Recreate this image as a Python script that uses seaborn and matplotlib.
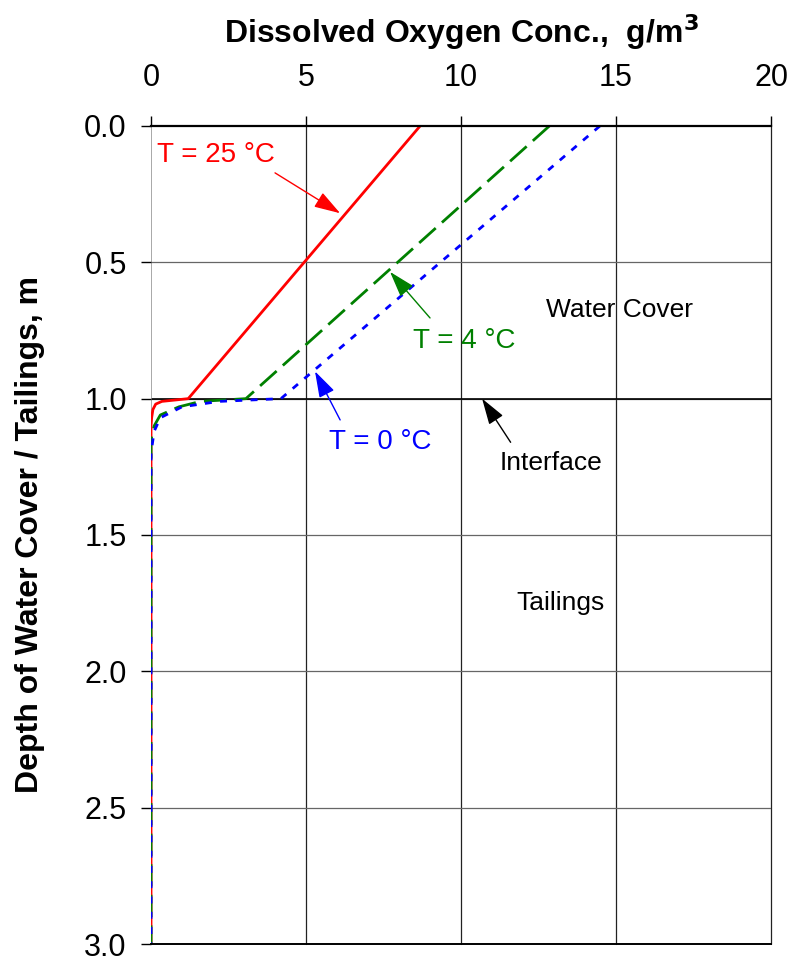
import numpy as np
import pandas as pd
import matplotlib
matplotlib.use("Agg")
import matplotlib.pyplot as plt
import seaborn as sns

# depth profiles (depth in m, DO in g/m3)
depth_25 = [0.0, 1.0, 1.01, 1.02, 1.04, 1.07, 1.1, 3.0]
conc_25 = [8.68, 1.2, 0.35, 0.15, 0.06, 0.02, 0.0, 0.0]

depth_4 = [0.0, 1.0, 1.01, 1.03, 1.06, 1.1, 1.15, 3.0]
conc_4 = [12.85, 3.06, 1.6, 0.9, 0.3, 0.1, 0.0, 0.0]

depth_0 = [0.0, 1.0, 1.01, 1.03, 1.07, 1.12, 1.2, 3.0]
conc_0 = [14.48, 4.19, 2.2, 1.0, 0.3, 0.1, 0.0, 0.0]

xticks = [0, 5, 10, 15, 20]
yticks = [0.0, 0.5, 1.0, 1.5, 2.0, 2.5, 3.0]

sns.set_style("white")
plt.rcParams['font.family'] = ['Liberation Sans', 'DejaVu Sans']
plt.rcParams['text.color'] = 'black'
plt.rcParams['axes.labelcolor'] = 'black'
plt.rcParams['xtick.color'] = 'black'
plt.rcParams['ytick.color'] = 'black'

fig = plt.figure(figsize=(7.92, 9.58), dpi=100)
ax = fig.add_axes([0.1907, 0.0146, 0.7828, 0.8539])

df25 = pd.DataFrame({"depth": depth_25, "conc": conc_25})
df4 = pd.DataFrame({"depth": depth_4, "conc": conc_4})
df0 = pd.DataFrame({"depth": depth_0, "conc": conc_0})

sns.lineplot(data=df25, x="conc", y="depth", sort=False, estimator=None,
             color="red", lw=2, ax=ax)
sns.lineplot(data=df4, x="conc", y="depth", sort=False, estimator=None,
             color="green", lw=2, ax=ax)
ax.lines[-1].set_dashes([8, 3])
sns.lineplot(data=df0, x="conc", y="depth", sort=False, estimator=None,
             color="blue", lw=2, ax=ax)
ax.lines[-1].set_dashes([2.5, 3])

ax.set_xlim(0, 20)
ax.set_ylim(3.0, 0.0)
ax.set_xticks(xticks)
ax.set_yticks(yticks)
ax.set_yticklabels([f"{v:.1f}" for v in yticks])
ax.xaxis.tick_top()
ax.xaxis.set_label_position("top")
ax.tick_params(axis="both", labelsize=22, direction="out", length=7.5,
               width=1, color="black")
ax.tick_params(axis="x", top=True, bottom=False, pad=16)
ax.tick_params(axis="y", left=True, pad=10)

for v in xticks[1:]:
    ax.axvline(v, color="#222222", lw=0.9, zorder=0, clip_on=False)
for v in yticks[1:-1]:
    ax.axhline(v, color="#666666", lw=0.9, zorder=0)
ax.axhline(1.0, color="black", lw=1.2, zorder=0)

for s in ["left", "right"]:
    ax.spines[s].set_visible(False)
ax.spines["top"].set_color("black")
ax.spines["top"].set_linewidth(1.6)
ax.spines["bottom"].set_color("black")
ax.spines["bottom"].set_linewidth(1.4)
ax.axvline(0, color="#999999", lw=1.2, zorder=0)

ax.set_xlabel("Dissolved Oxygen Conc.,  g/m$^\\mathbf{3}$", fontsize=23,
              fontweight="bold", labelpad=15)
ax.set_ylabel("Depth of Water Cover / Tailings, m", fontsize=23,
              fontweight="bold", labelpad=28)

# labels
ax.text(2.1, 0.105, "T = 25 °C", color="red", fontsize=20, ha="center", va="center")
ax.text(10.1, 0.79, "T = 4 °C", color="green", fontsize=20, ha="center", va="center")
ax.text(7.4, 1.16, "T = 0 °C", color="blue", fontsize=20, ha="center", va="center")
ax.text(12.9, 1.235, "Interface", fontsize=19, ha="center", va="center")
ax.text(15.1, 0.675, "Water Cover", fontsize=19, ha="center", va="center")
ax.text(13.2, 1.75, "Tailings", fontsize=19, ha="center", va="center")

# arrows (tip, tail, colour)
arrows = [((6.1, 0.32), (4.0, 0.172), "red"),
          ((7.71, 0.535), (9.0, 0.704), "green"),
          ((5.29, 0.90), (6.1, 1.078), "blue"),
          ((10.68, 1.0), (11.6, 1.16), "black")]
for tip, tail, c in arrows:
    ax.annotate("", xy=tip, xytext=tail,
                arrowprops=dict(arrowstyle="-|>,head_length=0.85,head_width=0.27",
                                color=c, lw=1, mutation_scale=19,
                                shrinkA=0, shrinkB=0))

fig.savefig("out.png", dpi=100)
